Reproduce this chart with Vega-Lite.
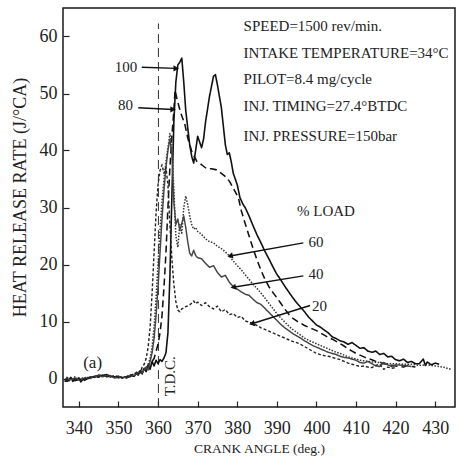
{
  "$schema": "https://vega.github.io/schema/vega-lite/v6.json",
  "width": 392,
  "height": 399,
  "autosize": {"type": "none"},
  "padding": {"left": 63, "top": 8, "right": 4, "bottom": 50},
  "background": "white",
  "config": {
    "view": {"stroke": "#1a1a1a", "strokeWidth": 1.5},
    "font": "Liberation Serif",
    "axis": {"grid": false, "domain": false, "tickColor": "#222", "tickWidth": 1.2, "labelColor": "#222", "titleColor": "#222", "labelFont": "Liberation Serif", "titleFont": "Liberation Serif", "titleFontWeight": "normal"}
  },
  "datasets": {
    "curves": [
      {"angle":336.5,"hrr":-0.6,"load":"100"},{"angle":337,"hrr":0.1,"load":"100"},{"angle":337.5,"hrr":-0.4,"load":"100"},{"angle":338,"hrr":0.2,"load":"100"},{"angle":338.5,"hrr":-0.5,"load":"100"},{"angle":339,"hrr":0,"load":"100"},{"angle":339.5,"hrr":-0.3,"load":"100"},{"angle":340,"hrr":0.1,"load":"100"},{"angle":340.5,"hrr":-0.6,"load":"100"},{"angle":341,"hrr":-0.2,"load":"100"},{"angle":342,"hrr":0,"load":"100"},{"angle":343,"hrr":0.3,"load":"100"},{"angle":344,"hrr":0.2,"load":"100"},{"angle":345,"hrr":0.6,"load":"100"},{"angle":346,"hrr":0.5,"load":"100"},{"angle":347,"hrr":0.7,"load":"100"},{"angle":348,"hrr":0.4,"load":"100"},{"angle":349,"hrr":0.3,"load":"100"},{"angle":350,"hrr":0.4,"load":"100"},{"angle":351,"hrr":0.1,"load":"100"},{"angle":352,"hrr":0.3,"load":"100"},{"angle":353,"hrr":0.5,"load":"100"},{"angle":354,"hrr":0.4,"load":"100"},{"angle":354.5,"hrr":0.9,"load":"100"},{"angle":355,"hrr":0.6,"load":"100"},{"angle":355.5,"hrr":1.4,"load":"100"},{"angle":356,"hrr":0.8,"load":"100"},{"angle":356.5,"hrr":1.8,"load":"100"},{"angle":357,"hrr":1.2,"load":"100"},{"angle":357.5,"hrr":2.4,"load":"100"},{"angle":358,"hrr":1.6,"load":"100"},{"angle":358.5,"hrr":3.0,"load":"100"},{"angle":359,"hrr":2.2,"load":"100"},{"angle":359.5,"hrr":3.2,"load":"100"},{"angle":360,"hrr":2.6,"load":"100"},{"angle":360.5,"hrr":3.3,"load":"100"},{"angle":361,"hrr":3.0,"load":"100"},{"angle":361.5,"hrr":3.6,"load":"100"},{"angle":362,"hrr":4.5,"load":"100"},{"angle":362.5,"hrr":8,"load":"100"},{"angle":363,"hrr":18,"load":"100"},{"angle":363.5,"hrr":32,"load":"100"},{"angle":364,"hrr":45,"load":"100"},{"angle":364.5,"hrr":52,"load":"100"},{"angle":365,"hrr":55,"load":"100"},{"angle":365.5,"hrr":55.5,"load":"100"},{"angle":366,"hrr":56.2,"load":"100"},{"angle":366.5,"hrr":52,"load":"100"},{"angle":367,"hrr":47,"load":"100"},{"angle":367.5,"hrr":44,"load":"100"},{"angle":368,"hrr":41,"load":"100"},{"angle":368.5,"hrr":39,"load":"100"},{"angle":369,"hrr":37.8,"load":"100"},{"angle":369.5,"hrr":40,"load":"100"},{"angle":370,"hrr":42.5,"load":"100"},{"angle":370.5,"hrr":41.5,"load":"100"},{"angle":371,"hrr":40.5,"load":"100"},{"angle":371.5,"hrr":42,"load":"100"},{"angle":372,"hrr":45,"load":"100"},{"angle":373,"hrr":49.5,"load":"100"},{"angle":374,"hrr":53,"load":"100"},{"angle":374.5,"hrr":53.3,"load":"100"},{"angle":375,"hrr":51.5,"load":"100"},{"angle":376,"hrr":47.5,"load":"100"},{"angle":377,"hrr":41,"load":"100"},{"angle":377.5,"hrr":39.3,"load":"100"},{"angle":378,"hrr":39.6,"load":"100"},{"angle":378.5,"hrr":38,"load":"100"},{"angle":379,"hrr":36,"load":"100"},{"angle":380,"hrr":34,"load":"100"},{"angle":380.7,"hrr":31.7,"load":"100"},{"angle":381.5,"hrr":30.5,"load":"100"},{"angle":382,"hrr":30,"load":"100"},{"angle":383,"hrr":28.5,"load":"100"},{"angle":384,"hrr":26.8,"load":"100"},{"angle":385,"hrr":25.2,"load":"100"},{"angle":386,"hrr":23.8,"load":"100"},{"angle":387,"hrr":22.3,"load":"100"},{"angle":388,"hrr":21,"load":"100"},{"angle":389,"hrr":19.6,"load":"100"},{"angle":390,"hrr":18.3,"load":"100"},{"angle":391,"hrr":17.3,"load":"100"},{"angle":392,"hrr":16.2,"load":"100"},{"angle":393,"hrr":15.2,"load":"100"},{"angle":394,"hrr":14.2,"load":"100"},{"angle":395,"hrr":13.3,"load":"100"},{"angle":396,"hrr":12.5,"load":"100"},{"angle":397,"hrr":11.7,"load":"100"},{"angle":398,"hrr":10.8,"load":"100"},{"angle":399,"hrr":10.1,"load":"100"},{"angle":400,"hrr":9.4,"load":"100"},{"angle":401,"hrr":9.0,"load":"100"},{"angle":402,"hrr":8.5,"load":"100"},{"angle":403,"hrr":8.0,"load":"100"},{"angle":404,"hrr":7.3,"load":"100"},{"angle":405,"hrr":7.0,"load":"100"},{"angle":406,"hrr":6.6,"load":"100"},{"angle":407,"hrr":6.4,"load":"100"},{"angle":408,"hrr":6.0,"load":"100"},{"angle":409,"hrr":6.3,"load":"100"},{"angle":410,"hrr":5.8,"load":"100"},{"angle":411,"hrr":5.3,"load":"100"},{"angle":412,"hrr":5.4,"load":"100"},{"angle":413,"hrr":4.8,"load":"100"},{"angle":414,"hrr":4.6,"load":"100"},{"angle":415,"hrr":4.8,"load":"100"},{"angle":416,"hrr":4.2,"load":"100"},{"angle":417,"hrr":4.4,"load":"100"},{"angle":418,"hrr":3.8,"load":"100"},{"angle":419,"hrr":3.9,"load":"100"},{"angle":420,"hrr":3.3,"load":"100"},{"angle":421,"hrr":3.1,"load":"100"},{"angle":422,"hrr":3.4,"load":"100"},{"angle":423,"hrr":2.8,"load":"100"},{"angle":424,"hrr":3.0,"load":"100"},{"angle":425,"hrr":2.6,"load":"100"},{"angle":426,"hrr":2.6,"load":"100"},{"angle":427,"hrr":3.4,"load":"100"},{"angle":427.5,"hrr":2.3,"load":"100"},{"angle":428,"hrr":2.9,"load":"100"},{"angle":429,"hrr":2.4,"load":"100"},{"angle":430,"hrr":2.7,"load":"100"},{"angle":431,"hrr":2.5,"load":"100"},

      {"angle":336.5,"hrr":-0.3,"load":"80"},{"angle":337,"hrr":-0.5,"load":"80"},{"angle":338,"hrr":0,"load":"80"},{"angle":339,"hrr":-0.4,"load":"80"},{"angle":340,"hrr":-0.1,"load":"80"},{"angle":341,"hrr":-0.5,"load":"80"},{"angle":342,"hrr":-0.1,"load":"80"},{"angle":343,"hrr":0.1,"load":"80"},{"angle":344,"hrr":0.4,"load":"80"},{"angle":345,"hrr":0.3,"load":"80"},{"angle":346,"hrr":0.7,"load":"80"},{"angle":347,"hrr":0.3,"load":"80"},{"angle":348,"hrr":0.5,"load":"80"},{"angle":349,"hrr":0.2,"load":"80"},{"angle":350,"hrr":0.2,"load":"80"},{"angle":351,"hrr":0.3,"load":"80"},{"angle":352,"hrr":0.1,"load":"80"},{"angle":353,"hrr":0.4,"load":"80"},{"angle":354,"hrr":0.7,"load":"80"},{"angle":355,"hrr":0.9,"load":"80"},{"angle":356,"hrr":1.3,"load":"80"},{"angle":357,"hrr":1.9,"load":"80"},{"angle":358,"hrr":2.5,"load":"80"},{"angle":359,"hrr":3.5,"load":"80"},{"angle":360,"hrr":6,"load":"80"},{"angle":360.5,"hrr":8,"load":"80"},{"angle":361,"hrr":11,"load":"80"},{"angle":361.5,"hrr":16,"load":"80"},{"angle":362,"hrr":22,"load":"80"},{"angle":362.5,"hrr":30,"load":"80"},{"angle":363,"hrr":37,"load":"80"},{"angle":363.5,"hrr":42.5,"load":"80"},{"angle":364,"hrr":47,"load":"80"},{"angle":364.3,"hrr":50.6,"load":"80"},{"angle":364.8,"hrr":49,"load":"80"},{"angle":365.6,"hrr":46.9,"load":"80"},{"angle":366.8,"hrr":44.5,"load":"80"},{"angle":367.5,"hrr":42.2,"load":"80"},{"angle":368.5,"hrr":39.9,"load":"80"},{"angle":369.8,"hrr":38.1,"load":"80"},{"angle":371,"hrr":37.5,"load":"80"},{"angle":372.3,"hrr":36.8,"load":"80"},{"angle":373.5,"hrr":36.8,"load":"80"},{"angle":374.8,"hrr":36.6,"load":"80"},{"angle":376,"hrr":36,"load":"80"},{"angle":377.4,"hrr":35.2,"load":"80"},{"angle":378.2,"hrr":34.4,"load":"80"},{"angle":379,"hrr":33.4,"load":"80"},{"angle":380.3,"hrr":31.7,"load":"80"},{"angle":381,"hrr":29.5,"load":"80"},{"angle":382,"hrr":27.2,"load":"80"},{"angle":383,"hrr":25,"load":"80"},{"angle":384,"hrr":22.8,"load":"80"},{"angle":385,"hrr":20.8,"load":"80"},{"angle":386,"hrr":19,"load":"80"},{"angle":387,"hrr":17.4,"load":"80"},{"angle":388,"hrr":16.1,"load":"80"},{"angle":389,"hrr":15.1,"load":"80"},{"angle":390,"hrr":14.2,"load":"80"},{"angle":391,"hrr":13.2,"load":"80"},{"angle":392,"hrr":12.2,"load":"80"},{"angle":393,"hrr":11.3,"load":"80"},{"angle":394,"hrr":10.6,"load":"80"},{"angle":395,"hrr":10.1,"load":"80"},{"angle":396,"hrr":9.7,"load":"80"},{"angle":397,"hrr":9.3,"load":"80"},{"angle":398,"hrr":9.0,"load":"80"},{"angle":399,"hrr":8.7,"load":"80"},{"angle":400,"hrr":8.4,"load":"80"},{"angle":401,"hrr":8.0,"load":"80"},{"angle":402,"hrr":7.6,"load":"80"},{"angle":403,"hrr":7.2,"load":"80"},{"angle":404,"hrr":6.9,"load":"80"},{"angle":405,"hrr":6.5,"load":"80"},{"angle":406,"hrr":6.1,"load":"80"},{"angle":407,"hrr":5.7,"load":"80"},{"angle":408,"hrr":5.2,"load":"80"},{"angle":409,"hrr":4.8,"load":"80"},{"angle":410,"hrr":4.4,"load":"80"},{"angle":411,"hrr":4.1,"load":"80"},{"angle":412,"hrr":3.8,"load":"80"},{"angle":413,"hrr":3.5,"load":"80"},{"angle":414,"hrr":3.3,"load":"80"},{"angle":415,"hrr":3.0,"load":"80"},{"angle":416,"hrr":2.9,"load":"80"},{"angle":417,"hrr":2.6,"load":"80"},{"angle":418,"hrr":2.5,"load":"80"},{"angle":419,"hrr":2.3,"load":"80"},{"angle":420,"hrr":2.2,"load":"80"},{"angle":421,"hrr":2.1,"load":"80"},{"angle":422,"hrr":2.0,"load":"80"},{"angle":423,"hrr":2.3,"load":"80"},{"angle":424,"hrr":2.1,"load":"80"},{"angle":425,"hrr":2.0,"load":"80"},

      {"angle":336.5,"hrr":-0.2,"load":"60"},{"angle":337,"hrr":0.2,"load":"60"},{"angle":338,"hrr":-0.3,"load":"60"},{"angle":339,"hrr":0.3,"load":"60"},{"angle":340,"hrr":-0.2,"load":"60"},{"angle":341,"hrr":0.1,"load":"60"},{"angle":342,"hrr":0.2,"load":"60"},{"angle":343,"hrr":0.0,"load":"60"},{"angle":344,"hrr":0.5,"load":"60"},{"angle":345,"hrr":0.4,"load":"60"},{"angle":346,"hrr":0.4,"load":"60"},{"angle":347,"hrr":0.6,"load":"60"},{"angle":348,"hrr":0.2,"load":"60"},{"angle":349,"hrr":0.4,"load":"60"},{"angle":350,"hrr":0.1,"load":"60"},{"angle":351,"hrr":0.2,"load":"60"},{"angle":352,"hrr":0.4,"load":"60"},{"angle":353,"hrr":0.3,"load":"60"},{"angle":354,"hrr":0.9,"load":"60"},{"angle":355,"hrr":0.7,"load":"60"},{"angle":356,"hrr":1.6,"load":"60"},{"angle":357,"hrr":1.4,"load":"60"},{"angle":357.5,"hrr":2.5,"load":"60"},{"angle":358,"hrr":3.5,"load":"60"},{"angle":358.5,"hrr":5.5,"load":"60"},{"angle":359,"hrr":9,"load":"60"},{"angle":359.5,"hrr":14,"load":"60"},{"angle":360,"hrr":20,"load":"60"},{"angle":360.5,"hrr":26,"load":"60"},{"angle":361,"hrr":31,"load":"60"},{"angle":361.5,"hrr":35,"load":"60"},{"angle":362,"hrr":38,"load":"60"},{"angle":362.5,"hrr":40.5,"load":"60"},{"angle":363,"hrr":43,"load":"60"},{"angle":363.5,"hrr":41,"load":"60"},{"angle":364,"hrr":33,"load":"60"},{"angle":364.5,"hrr":25,"load":"60"},{"angle":365,"hrr":23,"load":"60"},{"angle":365.5,"hrr":27,"load":"60"},{"angle":366,"hrr":25.5,"load":"60"},{"angle":366.5,"hrr":30,"load":"60"},{"angle":367,"hrr":32,"load":"60"},{"angle":367.5,"hrr":30.5,"load":"60"},{"angle":368,"hrr":28.5,"load":"60"},{"angle":368.5,"hrr":27,"load":"60"},{"angle":369,"hrr":26.2,"load":"60"},{"angle":369.5,"hrr":26.5,"load":"60"},{"angle":370,"hrr":25.8,"load":"60"},{"angle":371,"hrr":25.3,"load":"60"},{"angle":372,"hrr":24.5,"load":"60"},{"angle":373,"hrr":24,"load":"60"},{"angle":374,"hrr":23.8,"load":"60"},{"angle":375,"hrr":23.2,"load":"60"},{"angle":376,"hrr":22.8,"load":"60"},{"angle":377,"hrr":22.2,"load":"60"},{"angle":378,"hrr":21.5,"load":"60"},{"angle":379,"hrr":20.6,"load":"60"},{"angle":380,"hrr":19.8,"load":"60"},{"angle":381,"hrr":19.1,"load":"60"},{"angle":382,"hrr":18.2,"load":"60"},{"angle":383,"hrr":17.4,"load":"60"},{"angle":384,"hrr":16.5,"load":"60"},{"angle":385,"hrr":15.8,"load":"60"},{"angle":386,"hrr":15,"load":"60"},{"angle":387,"hrr":14.1,"load":"60"},{"angle":388,"hrr":13.2,"load":"60"},{"angle":389,"hrr":12.3,"load":"60"},{"angle":390,"hrr":11.4,"load":"60"},{"angle":391,"hrr":10.6,"load":"60"},{"angle":392,"hrr":9.9,"load":"60"},{"angle":393,"hrr":9.2,"load":"60"},{"angle":394,"hrr":8.6,"load":"60"},{"angle":395,"hrr":8.1,"load":"60"},{"angle":396,"hrr":7.6,"load":"60"},{"angle":397,"hrr":7.1,"load":"60"},{"angle":398,"hrr":6.7,"load":"60"},{"angle":399,"hrr":6.4,"load":"60"},{"angle":400,"hrr":6.1,"load":"60"},{"angle":401,"hrr":5.8,"load":"60"},{"angle":402,"hrr":5.5,"load":"60"},{"angle":403,"hrr":5.2,"load":"60"},{"angle":404,"hrr":4.9,"load":"60"},{"angle":405,"hrr":4.6,"load":"60"},{"angle":406,"hrr":4.4,"load":"60"},{"angle":407,"hrr":4.1,"load":"60"},{"angle":408,"hrr":3.8,"load":"60"},{"angle":409,"hrr":3.6,"load":"60"},{"angle":410,"hrr":3.4,"load":"60"},{"angle":411,"hrr":3.2,"load":"60"},{"angle":412,"hrr":3.1,"load":"60"},{"angle":414,"hrr":2.9,"load":"60"},{"angle":416,"hrr":2.8,"load":"60"},{"angle":418,"hrr":2.6,"load":"60"},{"angle":420,"hrr":2.6,"load":"60"},{"angle":422,"hrr":2.5,"load":"60"},{"angle":424,"hrr":2.5,"load":"60"},{"angle":426,"hrr":2.3,"load":"60"},{"angle":428,"hrr":2.4,"load":"60"},{"angle":430,"hrr":2.2,"load":"60"},{"angle":432,"hrr":2.0,"load":"60"},{"angle":434,"hrr":1.6,"load":"60"},

      {"angle":336.5,"hrr":-0.4,"load":"40"},{"angle":337,"hrr":-0.1,"load":"40"},{"angle":338,"hrr":-0.2,"load":"40"},{"angle":339,"hrr":0.1,"load":"40"},{"angle":340,"hrr":-0.3,"load":"40"},{"angle":341,"hrr":0,"load":"40"},{"angle":342,"hrr":0.1,"load":"40"},{"angle":343,"hrr":0.2,"load":"40"},{"angle":344,"hrr":0.3,"load":"40"},{"angle":345,"hrr":0.5,"load":"40"},{"angle":346,"hrr":0.3,"load":"40"},{"angle":347,"hrr":0.5,"load":"40"},{"angle":348,"hrr":0.4,"load":"40"},{"angle":349,"hrr":0.1,"load":"40"},{"angle":350,"hrr":0.3,"load":"40"},{"angle":351,"hrr":0.2,"load":"40"},{"angle":352,"hrr":0.2,"load":"40"},{"angle":353,"hrr":0.6,"load":"40"},{"angle":354,"hrr":0.5,"load":"40"},{"angle":355,"hrr":1.1,"load":"40"},{"angle":356,"hrr":1.0,"load":"40"},{"angle":357,"hrr":2.0,"load":"40"},{"angle":357.5,"hrr":1.5,"load":"40"},{"angle":358,"hrr":3.0,"load":"40"},{"angle":358.5,"hrr":4.5,"load":"40"},{"angle":359,"hrr":7,"load":"40"},{"angle":359.5,"hrr":11,"load":"40"},{"angle":360,"hrr":16,"load":"40"},{"angle":360.5,"hrr":22,"load":"40"},{"angle":361,"hrr":28,"load":"40"},{"angle":361.5,"hrr":33,"load":"40"},{"angle":362,"hrr":37,"load":"40"},{"angle":362.5,"hrr":40,"load":"40"},{"angle":363,"hrr":42,"load":"40"},{"angle":363.5,"hrr":39.5,"load":"40"},{"angle":364,"hrr":31,"load":"40"},{"angle":364.5,"hrr":27,"load":"40"},{"angle":365,"hrr":28,"load":"40"},{"angle":365.5,"hrr":26,"load":"40"},{"angle":366,"hrr":27.2,"load":"40"},{"angle":366.5,"hrr":28.5,"load":"40"},{"angle":367,"hrr":26.5,"load":"40"},{"angle":367.5,"hrr":24,"load":"40"},{"angle":368,"hrr":22,"load":"40"},{"angle":368.5,"hrr":21.5,"load":"40"},{"angle":369,"hrr":22.5,"load":"40"},{"angle":369.5,"hrr":21.6,"load":"40"},{"angle":370,"hrr":21.2,"load":"40"},{"angle":371,"hrr":21,"load":"40"},{"angle":372,"hrr":20.2,"load":"40"},{"angle":373,"hrr":19.5,"load":"40"},{"angle":374,"hrr":19.8,"load":"40"},{"angle":375,"hrr":18.6,"load":"40"},{"angle":376,"hrr":17.8,"load":"40"},{"angle":377,"hrr":18.1,"load":"40"},{"angle":378,"hrr":16.9,"load":"40"},{"angle":379,"hrr":16.1,"load":"40"},{"angle":380,"hrr":15.7,"load":"40"},{"angle":381,"hrr":15.2,"load":"40"},{"angle":382,"hrr":14.8,"load":"40"},{"angle":383,"hrr":14.6,"load":"40"},{"angle":384,"hrr":13.9,"load":"40"},{"angle":385,"hrr":13.3,"load":"40"},{"angle":386,"hrr":13,"load":"40"},{"angle":387,"hrr":12.3,"load":"40"},{"angle":388,"hrr":11.6,"load":"40"},{"angle":389,"hrr":10.9,"load":"40"},{"angle":390,"hrr":10.2,"load":"40"},{"angle":391,"hrr":9.5,"load":"40"},{"angle":392,"hrr":8.9,"load":"40"},{"angle":393,"hrr":8.4,"load":"40"},{"angle":394,"hrr":7.9,"load":"40"},{"angle":395,"hrr":7.5,"load":"40"},{"angle":396,"hrr":7.1,"load":"40"},{"angle":397,"hrr":6.6,"load":"40"},{"angle":398,"hrr":6.2,"load":"40"},{"angle":399,"hrr":5.8,"load":"40"},{"angle":400,"hrr":5.5,"load":"40"},{"angle":401,"hrr":5.2,"load":"40"},{"angle":402,"hrr":4.9,"load":"40"},{"angle":403,"hrr":4.6,"load":"40"},{"angle":404,"hrr":4.4,"load":"40"},{"angle":405,"hrr":4.2,"load":"40"},{"angle":406,"hrr":3.9,"load":"40"},{"angle":407,"hrr":3.7,"load":"40"},{"angle":408,"hrr":3.6,"load":"40"},{"angle":409,"hrr":3.4,"load":"40"},{"angle":410,"hrr":3.2,"load":"40"},{"angle":411,"hrr":2.8,"load":"40"},{"angle":412,"hrr":2.7,"load":"40"},{"angle":413,"hrr":3.0,"load":"40"},{"angle":414,"hrr":2.6,"load":"40"},{"angle":415,"hrr":2.2,"load":"40"},{"angle":416,"hrr":2.1,"load":"40"},{"angle":417,"hrr":2.8,"load":"40"},{"angle":418,"hrr":2.4,"load":"40"},{"angle":419,"hrr":2.1,"load":"40"},{"angle":420,"hrr":2.4,"load":"40"},{"angle":422,"hrr":2.3,"load":"40"},{"angle":424,"hrr":2.1,"load":"40"},

      {"angle":336.5,"hrr":-0.5,"load":"20"},{"angle":337,"hrr":-0.2,"load":"20"},{"angle":338,"hrr":0.1,"load":"20"},{"angle":339,"hrr":-0.2,"load":"20"},{"angle":340,"hrr":0,"load":"20"},{"angle":341,"hrr":-0.3,"load":"20"},{"angle":342,"hrr":0.2,"load":"20"},{"angle":343,"hrr":0.1,"load":"20"},{"angle":344,"hrr":0.3,"load":"20"},{"angle":345,"hrr":0.2,"load":"20"},{"angle":346,"hrr":0.6,"load":"20"},{"angle":347,"hrr":0.4,"load":"20"},{"angle":348,"hrr":0.3,"load":"20"},{"angle":349,"hrr":0.5,"load":"20"},{"angle":350,"hrr":0.2,"load":"20"},{"angle":351,"hrr":0.1,"load":"20"},{"angle":352,"hrr":0.3,"load":"20"},{"angle":353,"hrr":0.6,"load":"20"},{"angle":354,"hrr":0.8,"load":"20"},{"angle":355,"hrr":1.3,"load":"20"},{"angle":355.5,"hrr":1.0,"load":"20"},{"angle":356,"hrr":2.0,"load":"20"},{"angle":356.5,"hrr":2.5,"load":"20"},{"angle":357,"hrr":3.5,"load":"20"},{"angle":357.5,"hrr":5.5,"load":"20"},{"angle":358,"hrr":9,"load":"20"},{"angle":358.5,"hrr":15,"load":"20"},{"angle":359,"hrr":22,"load":"20"},{"angle":359.5,"hrr":29,"load":"20"},{"angle":360,"hrr":34,"load":"20"},{"angle":360.5,"hrr":36.5,"load":"20"},{"angle":361,"hrr":37.5,"load":"20"},{"angle":361.5,"hrr":36,"load":"20"},{"angle":362,"hrr":37,"load":"20"},{"angle":362.5,"hrr":34,"load":"20"},{"angle":363,"hrr":27,"load":"20"},{"angle":363.5,"hrr":21,"load":"20"},{"angle":364,"hrr":16.5,"load":"20"},{"angle":364.5,"hrr":13.5,"load":"20"},{"angle":365,"hrr":12,"load":"20"},{"angle":365.5,"hrr":11.7,"load":"20"},{"angle":366,"hrr":12.2,"load":"20"},{"angle":367,"hrr":12.6,"load":"20"},{"angle":368,"hrr":12.9,"load":"20"},{"angle":369,"hrr":13.6,"load":"20"},{"angle":369.5,"hrr":13.1,"load":"20"},{"angle":370,"hrr":13.4,"load":"20"},{"angle":371,"hrr":12.8,"load":"20"},{"angle":372,"hrr":13.3,"load":"20"},{"angle":373,"hrr":12.6,"load":"20"},{"angle":374,"hrr":12.2,"load":"20"},{"angle":375,"hrr":12.7,"load":"20"},{"angle":376,"hrr":11.7,"load":"20"},{"angle":377,"hrr":12.1,"load":"20"},{"angle":378,"hrr":11.2,"load":"20"},{"angle":379,"hrr":11.4,"load":"20"},{"angle":380,"hrr":10.7,"load":"20"},{"angle":381,"hrr":10.9,"load":"20"},{"angle":382,"hrr":10.1,"load":"20"},{"angle":383,"hrr":9.9,"load":"20"},{"angle":384,"hrr":9.6,"load":"20"},{"angle":385,"hrr":9.3,"load":"20"},{"angle":386,"hrr":8.9,"load":"20"},{"angle":387,"hrr":8.6,"load":"20"},{"angle":388,"hrr":8.3,"load":"20"},{"angle":389,"hrr":8.0,"load":"20"},{"angle":390,"hrr":7.7,"load":"20"},{"angle":391,"hrr":7.4,"load":"20"},{"angle":392,"hrr":7.1,"load":"20"},{"angle":393,"hrr":6.8,"load":"20"},{"angle":394,"hrr":6.5,"load":"20"},{"angle":395,"hrr":6.3,"load":"20"},{"angle":396,"hrr":6.0,"load":"20"},{"angle":397,"hrr":5.6,"load":"20"},{"angle":398,"hrr":5.2,"load":"20"},{"angle":399,"hrr":4.8,"load":"20"},{"angle":400,"hrr":4.4,"load":"20"},{"angle":401,"hrr":4.2,"load":"20"},{"angle":402,"hrr":4.0,"load":"20"},{"angle":403,"hrr":3.9,"load":"20"},{"angle":404,"hrr":3.7,"load":"20"},{"angle":405,"hrr":3.5,"load":"20"},{"angle":406,"hrr":3.3,"load":"20"},{"angle":407,"hrr":3.0,"load":"20"},{"angle":408,"hrr":2.7,"load":"20"},{"angle":409,"hrr":2.5,"load":"20"},{"angle":410,"hrr":2.3,"load":"20"},{"angle":411,"hrr":2.1,"load":"20"},{"angle":412,"hrr":2.2,"load":"20"},{"angle":413,"hrr":2.0,"load":"20"},{"angle":414,"hrr":1.9,"load":"20"},{"angle":415,"hrr":2.3,"load":"20"},{"angle":416,"hrr":2.5,"load":"20"},{"angle":417,"hrr":1.6,"load":"20"},{"angle":418,"hrr":2.0,"load":"20"},{"angle":419,"hrr":1.8,"load":"20"},{"angle":420,"hrr":1.9,"load":"20"}
    ],
    "tdc": [{"angle": 360.1, "hrr": -5, "hrr2": 62.3}],
    "arrows": [
      {"angle": 355.9, "hrr": 54.6, "angle2": 364.6, "hrr2": 54.4, "dir": "right"},
      {"angle": 355.0, "hrr": 47.5, "angle2": 363.8, "hrr2": 47.2, "dir": "right"},
      {"angle": 396.7, "hrr": 23.8, "angle2": 378.2, "hrr2": 21.5, "dir": "left"},
      {"angle": 396.7, "hrr": 18.0, "angle2": 379.0, "hrr2": 16.0, "dir": "left"},
      {"angle": 398.4, "hrr": 12.8, "angle2": 383.7, "hrr2": 9.6, "dir": "left"}
    ],
    "info": [
      {"angle": 381.6, "hrr": 61.0, "label": "SPEED=1500 rev/min."},
      {"angle": 381.6, "hrr": 56.2, "label": "INTAKE TEMPERATURE=34°C"},
      {"angle": 381.6, "hrr": 51.6, "label": "PILOT=8.4 mg/cycle"},
      {"angle": 381.6, "hrr": 46.9, "label": "INJ. TIMING=27.4°BTDC"},
      {"angle": 381.6, "hrr": 41.6, "label": "INJ. PRESSURE=150bar"}
    ],
    "loadlabels": [
      {"angle": 349.1, "hrr": 53.7, "label": "100"},
      {"angle": 349.9, "hrr": 47.1, "label": "80"},
      {"angle": 398.0, "hrr": 23.0, "label": "60"},
      {"angle": 398.0, "hrr": 17.4, "label": "40"},
      {"angle": 398.9, "hrr": 11.9, "label": "20"},
      {"angle": 395.1, "hrr": 28.5, "label": "% LOAD"}
    ],
    "misc": [{"angle": 341.1, "hrr": 1.9, "label": "(a)"}],
    "tdclabel": [{"angle": 363.1, "hrr": 0.4, "label": "T.D.C."}]
  },
  "encoding": {
    "x": {
      "field": "angle", "type": "quantitative",
      "scale": {"domain": [336, 435], "nice": false, "zero": false},
      "axis": {"values": [340, 350, 360, 370, 380, 390, 400, 410, 420, 430], "title": "CRANK ANGLE (deg.)", "titleFontSize": 13.5, "titleY": 45, "titleBaseline": "alphabetic", "labelFontSize": 18, "labelPadding": 18, "tickSize": -6}
    },
    "y": {
      "field": "hrr", "type": "quantitative",
      "scale": {"domain": [-5, 65], "nice": false, "zero": false},
      "axis": {"values": [0, 10, 20, 30, 40, 50, 60], "title": "HEAT RELEASE RATE (J/°CA)", "titleFontSize": 18, "titleX": -43, "titleY": 189, "titleAlign": "center", "titleBaseline": "middle", "labelFontSize": 18, "labelPadding": 12, "tickSize": -6}
    }
  },
  "layer": [
    {
      "data": {"name": "tdc"},
      "mark": {"type": "rule", "strokeDash": [9, 5], "strokeWidth": 1, "color": "#333"},
      "encoding": {"y2": {"field": "hrr2"}}
    },
    {
      "data": {"name": "curves"},
      "mark": {"type": "line", "clip": true, "strokeJoin": "round"},
      "encoding": {
        "detail": {"field": "load", "type": "nominal"},
        "strokeDash": {"field": "load", "type": "nominal", "scale": {"domain": ["100", "80", "60", "40", "20"], "range": [[1, 0], [7, 4], [1.5, 1.5], [1, 0], [3, 2]]}, "legend": null},
        "strokeWidth": {"field": "load", "type": "nominal", "scale": {"domain": ["100", "80", "60", "40", "20"], "range": [1.6, 1.4, 1.2, 0.9, 1.2]}, "legend": null},
        "color": {"field": "load", "type": "nominal", "scale": {"domain": ["100", "80", "60", "40", "20"], "range": ["#111111", "#111111", "#333333", "#444444", "#222222"]}, "legend": null}
      }
    },
    {
      "data": {"name": "arrows"},
      "mark": {"type": "rule", "strokeWidth": 1.4, "color": "#111"},
      "encoding": {"x2": {"field": "angle2"}, "y2": {"field": "hrr2"}}
    },
    {
      "data": {"name": "arrows"},
      "transform": [{"filter": "datum.dir === 'right'"}],
      "mark": {"type": "point", "shape": "triangle-right", "filled": true, "size": 40, "color": "#111", "opacity": 1},
      "encoding": {"x": {"field": "angle2", "type": "quantitative"}, "y": {"field": "hrr2", "type": "quantitative"}}
    },
    {
      "data": {"name": "arrows"},
      "transform": [{"filter": "datum.dir === 'left'"}],
      "mark": {"type": "point", "shape": "triangle-left", "filled": true, "size": 40, "angle": -12, "color": "#111", "opacity": 1},
      "encoding": {"x": {"field": "angle2", "type": "quantitative"}, "y": {"field": "hrr2", "type": "quantitative"}}
    },
    {
      "data": {"name": "info"},
      "mark": {"type": "text", "align": "left", "baseline": "alphabetic", "fontSize": 15, "font": "Liberation Serif", "color": "#222"},
      "encoding": {"text": {"field": "label"}}
    },
    {
      "data": {"name": "loadlabels"},
      "mark": {"type": "text", "align": "left", "baseline": "alphabetic", "fontSize": 15, "font": "Liberation Serif", "color": "#222"},
      "encoding": {"text": {"field": "label"}}
    },
    {
      "data": {"name": "misc"},
      "mark": {"type": "text", "align": "left", "baseline": "alphabetic", "fontSize": 17, "font": "Liberation Serif", "color": "#222"},
      "encoding": {"text": {"field": "label"}}
    },
    {
      "data": {"name": "tdclabel"},
      "mark": {"type": "text", "align": "center", "baseline": "middle", "angle": 270, "fontSize": 15, "font": "Liberation Serif", "color": "#222"},
      "encoding": {"text": {"field": "label"}}
    }
  ]
}
